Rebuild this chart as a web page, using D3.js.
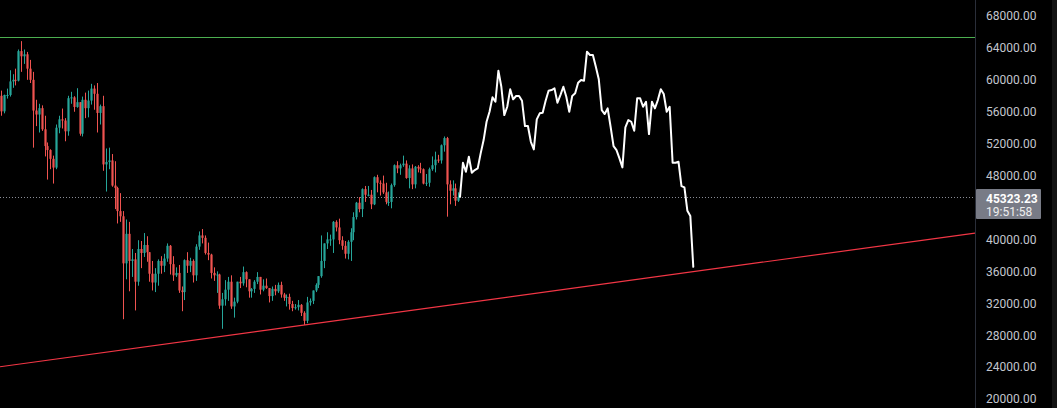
<!DOCTYPE html>
<html>
<head>
<meta charset="utf-8">
<script src="https://cdn.jsdelivr.net/npm/d3@7"></script>
<style>
html,body{margin:0;padding:0;background:#000;}
svg{display:block;}
</style>
</head>
<body>
<svg id="chart" width="1057" height="408"></svg>
<script>
// ---- DATA ----
// daily candles, day index 0 = 2021-04-07 ; [open, high, low, close]
const candles = [
[58000,58650,55500,56050],[56050,58150,55800,58100],[58100,58900,57650,58100],[58100,61200,57900,59800],
[59800,60700,59000,60000],[60000,61400,59300,59900],[59900,63800,59800,63600],[63600,64850,61000,62950],
[62950,63800,62000,63200],[63200,63500,60000,61400],[61400,62500,59600,60000],[60000,61000,51500,56150],
[56150,57500,54200,55650],[55650,57000,53400,56450],[56450,56800,53600,53800],[53800,55500,50400,51700],
[51700,52150,47500,51200],[51200,51300,48800,50100],[50100,50500,47000,49000],[49000,54400,48800,54000],
[54000,55500,53300,55050],[55050,56400,53900,54900],[54900,55200,52300,53550],[53550,58000,53000,57700],
[57700,58500,57000,57800],[57800,57950,56000,56600],[56600,58950,56500,57200],[57200,57200,53000,53250],
[53250,57900,52900,57500],[57500,58400,55200,56450],[56450,58650,55300,57400],[57400,59500,56900,58900],
[58900,59300,56250,58250],[58250,59600,53400,55850],[55850,56900,54400,56700],[56700,58000,48600,49400],
[49400,51400,46000,49700],[49700,51500,48800,49900],[49900,50700,46600,46750],[46750,49800,43800,46450],
[46450,46600,42000,43550],[43550,45800,42200,42900],[42900,43550,30000,37000],[37000,42500,35000,40700],
[40700,42200,33500,37300],[37300,38800,35300,37500],[37500,38300,31100,34700],[34700,39900,34200,38800],
[38800,39800,36400,38300],[38300,40800,37800,39300],[39300,40400,37200,38400],[38400,38400,34700,35700],
[35700,37300,33600,34600],[34600,36400,33400,35700],[35700,37500,34200,37300],[37300,37900,35700,36700],
[36700,38200,35900,37600],[37600,39500,37200,39200],[39200,39300,35600,36900],[36900,37900,34800,35500],
[35500,36500,35300,35800],[35800,36800,33300,33600],[33600,34100,31000,33400],[33400,37500,32400,37400],
[37400,38400,35800,36700],[36700,37700,35900,37300],[37300,37500,34600,35500],[35500,39400,34800,39100],
[39100,41000,38700,40500],[40500,41300,39500,40200],[40200,40500,38100,38300],[38300,39600,37400,38100],
[38100,38200,35100,35800],[35800,36500,34800,35500],[35500,36000,33300,35600],[35600,35700,31300,31700],
[31700,33300,28800,32500],[32500,34900,31700,33700],[33700,35300,32300,34700],[34700,35500,31300,31600],
[31600,32700,30200,32200],[32200,34700,32000,34700],[34700,35300,33900,34500],[34500,36600,34200,35900],
[35900,36000,34000,35000],[35000,35000,32700,33500],[33500,33900,32700,33800],[33800,34900,33300,34700],
[34700,35900,34400,35300],[35300,35300,33100,33700],[33700,35000,33500,34200],[34200,35100,33800,33900],
[33900,33900,32100,32900],[32900,34100,32300,33800],[33800,34300,33000,33500],[33500,34600,33300,34300],
[34300,34700,32700,33100],[33100,33300,32300,32700],[32700,33100,31600,32800],[32800,33200,31200,31900],
[31900,32300,31000,31400],[31400,31900,31200,31500],[31500,32400,31100,31800],[31800,31900,30400,30800],
[30800,31000,29300,29800],[29800,32800,29500,32100],[32100,32600,31700,32300],[32300,33600,31900,33600],
[33600,34500,33400,34300],[34300,35400,33900,35400],[35400,40500,35200,37300],[37300,39500,36400,39500],
[39500,40900,38800,40000],[40000,40600,39200,40000],[40000,42300,38300,42200],[42200,42400,41000,41500],
[41500,42600,39400,39900],[39900,40400,38700,39200],[39200,39800,37600,38200],[38200,39900,37500,39700],
[39700,41400,37300,40900],[40900,43400,39900,42800],[42800,44700,42500,44600],[44600,45300,43400,43800],
[43800,46400,42800,46300],[46300,46700,44700,45600],[45600,46700,45400,45600],[45600,46200,43800,44400],
[44400,47900,44300,47800],[47800,48100,45900,47100],[47100,47400,45500,47000],[47000,48000,45700,45900],
[45900,47100,44400,44700],[44700,46000,44200,44700],[44700,47000,43900,46800],[46800,49400,46600,49300],
[49300,49800,48300,48900],[48900,49500,48100,49300],[49300,50500,49100,49500],[49500,49900,47600,47700],
[47700,49300,46400,48900],[48900,49400,46300,46900],[46900,49200,46400,49100],[49100,49300,48400,48900],
[48900,49600,48300,48800],[48800,48900,46900,47000],[47000,48200,46700,47100],[47100,49000,46600,48800],
[48800,50400,48600,49300],[49300,51000,48400,50000],[50000,50600,49600,49900],[49900,51900,49500,51800],
[51800,52900,51000,52700],[52700,52850,42850,46900],[46900,47400,44400,46100],[46100,47400,45500,46400],
[46400,47000,44200,44850],[44850,45900,44700,45323]
];
// projected path (white line)
const projValues = [45342,49605,48477,50358,48351,48690,48903,50784,52452,54746,56000,57806,57254,61141,59135,
55586,56627,58809,57555,57969,57969,57379,54207,54207,52238,51286,55047,55800,55875,57379,58633,58721,58934,
57129,58094,59135,57881,56000,57969,58307,59636,59975,59887,63524,63110,63110,61643,60063,56213,55712,56427,
54119,51699,51198,50157,49028,54044,54959,54746,53618,57680,57680,56627,57254,53204,57254,56427,57467,58809,
58220,56000,56627,49605,49605,49731,46684,46521,43587,42922,36565];
const projDays = [157.56, 237.62];      // first / last day of projection
const trendPts = [[-0.3, 24040], [334.3, 40800]];
const levelPrice = 65370;
const lastPrice = 45323.23;
const countdown = "19:51:58";
const tickValues = [20000,24000,28000,32000,36000,40000,48000,52000,56000,60000,64000,68000];

// ---- CHART ----
const W = 1057, H = 408, plotW = 975;
const svg = d3.select("#chart");
svg.append("rect").attr("width", W).attr("height", H).attr("fill", "#000");

const x = d3.scaleLinear().domain([-0.3, 334.3]).range([0, plotW]);
const y = d3.scaleLinear().domain([20000, 68000]).range([399, 16]);

const plot = svg.append("g");
plot.append("clipPath").attr("id", "clip").append("rect").attr("width", plotW).attr("height", H);
const g = plot.append("g").attr("clip-path", "url(#clip)");

// horizontal level
g.append("line").attr("x1", 0).attr("x2", plotW)
  .attr("y1", Math.round(y(levelPrice)) + 0.5).attr("y2", Math.round(y(levelPrice)) + 0.5)
  .attr("stroke", "#4caf50").attr("stroke-width", 1);

// current price dotted line
g.append("line").attr("x1", 0).attr("x2", plotW)
  .attr("y1", Math.round(y(lastPrice)) + 0.5).attr("y2", Math.round(y(lastPrice)) + 0.5)
  .attr("stroke", "#8a8d96").attr("stroke-width", 1).attr("stroke-dasharray", "1,2");

// trend line
g.append("line")
  .attr("x1", x(trendPts[0][0])).attr("y1", y(trendPts[0][1]))
  .attr("x2", x(trendPts[1][0])).attr("y2", y(trendPts[1][1]))
  .attr("stroke", "#f23645").attr("stroke-width", 1.2);

// candles
const up = "#26a69a", dn = "#ef5350";
const bw = 2.2;
const cg = g.append("g");
cg.selectAll("line.wick").data(candles).join("line")
  .attr("x1", (d, i) => Math.round(x(i)) + 0.5).attr("x2", (d, i) => Math.round(x(i)) + 0.5)
  .attr("y1", d => y(d[1])).attr("y2", d => y(d[2]))
  .attr("stroke", d => d[3] >= d[0] ? up : dn).attr("stroke-width", 1);
cg.selectAll("rect.body").data(candles).join("rect")
  .attr("x", (d, i) => Math.round(x(i)) + 0.5 - bw / 2)
  .attr("width", bw)
  .attr("y", d => y(Math.max(d[0], d[3])))
  .attr("height", d => Math.max(1, Math.abs(y(d[0]) - y(d[3]))))
  .attr("fill", d => d[3] >= d[0] ? up : dn);

// projection line
const n = projValues.length;
const step = (projDays[1] - projDays[0]) / (n - 1);
const line = d3.line().x((d, i) => x(projDays[0] + i * step)).y(d => y(d));
g.append("path").datum(projValues).attr("d", line)
  .attr("fill", "none").attr("stroke", "#ffffff").attr("stroke-width", 2)
  .attr("stroke-linejoin", "round").attr("stroke-linecap", "round");

// axis separator
svg.append("line").attr("x1", plotW + 0.5).attr("x2", plotW + 0.5).attr("y1", 0).attr("y2", H)
  .attr("stroke", "#2a2e39").attr("stroke-width", 1);
svg.append("rect").attr("x", 1052).attr("y", 0).attr("width", 5).attr("height", H).attr("fill", "#131313");

// price axis
const axis = d3.axisRight(y).tickValues(tickValues).tickSize(0).tickPadding(0)
  .tickFormat(d => d.toFixed(2));
const ag = svg.append("g").attr("transform", `translate(986,0)`).call(axis);
ag.select(".domain").remove();
ag.selectAll("text").attr("fill", "#c3c6ce").style("font-family", "Roboto, 'Liberation Sans', sans-serif")
  .style("font-size", "12px");

// last price label
const ly = y(lastPrice);
const lab = svg.append("g");
lab.append("rect").attr("x", 976).attr("y", ly - 8).attr("width", 65).attr("height", 30)
  .attr("fill", "#787b86").attr("rx", 1);
lab.append("text").attr("x", 986).attr("y", ly + 2).attr("dy", "0.32em")
  .attr("fill", "#ffffff").style("font-family", "Roboto, 'Liberation Sans', sans-serif")
  .style("font-size", "12px").style("font-weight", "bold").text(lastPrice.toFixed(2));
lab.append("text").attr("x", 986).attr("y", ly + 15).attr("dy", "0.32em")
  .attr("fill", "#eeeeee").style("font-family", "Roboto, 'Liberation Sans', sans-serif")
  .style("font-size", "12px").text(countdown);
</script>
</body>
</html>
